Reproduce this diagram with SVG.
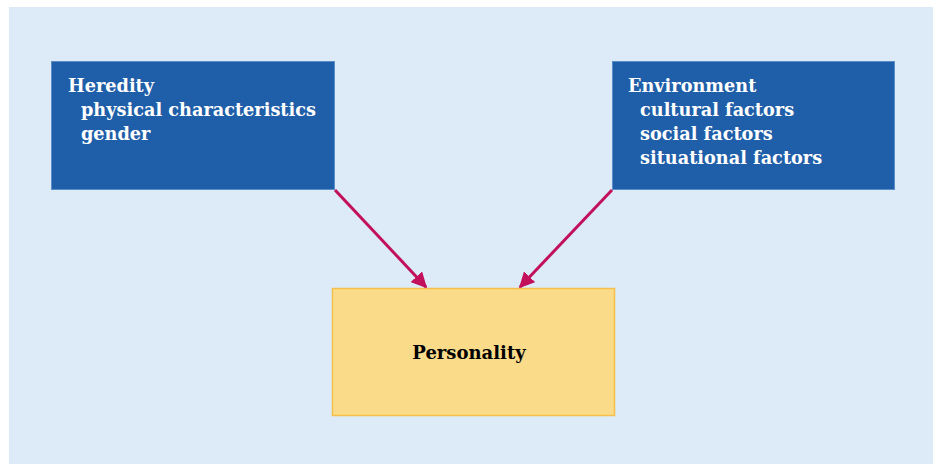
<svg xmlns="http://www.w3.org/2000/svg" width="933" height="464" viewBox="0 0 933 464">
<style>
.bg{fill:#DCEBF7}
.src{fill:#1F5EA8;stroke:#5B8DC8;stroke-width:1}
.tgt{fill:#FADB8A;stroke:#F5C04A;stroke-width:1.5}
.t{font-family:"DejaVu Serif",serif;font-weight:bold;font-size:17.7px;fill:#FFFFFF}
.p{font-family:"DejaVu Serif",serif;font-weight:bold;font-size:18px;fill:#000000}
.c{stroke:#C2105A;stroke-width:3;fill:none}
</style>
<defs>
<marker id="ah" viewBox="0 0 10 10" refX="9" refY="5" markerWidth="5.2" markerHeight="5.2" orient="auto" markerUnits="strokeWidth">
<path d="M0,0 L10,5 L0,10 z" fill="#C2105A"/>
</marker>
</defs>
<rect class="bg" x="9" y="7" width="924" height="457"/>
<g id="heredity">
<rect class="src" x="51.5" y="61.5" width="283" height="128"/>
<text class="t" x="68" y="92">Heredity</text>
<text class="t" x="81" y="116">physical characteristics</text>
<text class="t" x="81" y="140">gender</text>
</g>
<g id="environment">
<rect class="src" x="612.5" y="61.5" width="282" height="128"/>
<text class="t" x="628" y="92">Environment</text>
<text class="t" x="640" y="116">cultural factors</text>
<text class="t" x="640" y="140">social factors</text>
<text class="t" x="640" y="164">situational factors</text>
</g>
<g id="personality">
<rect class="tgt" x="332.5" y="288.5" width="282" height="127"/>
<text class="p" x="469" y="359" text-anchor="middle">Personality</text>
</g>
<g id="connectors">
<line class="c" x1="335" y1="190" x2="426" y2="287" marker-end="url(#ah)"/>
<line class="c" x1="612" y1="190" x2="520" y2="287" marker-end="url(#ah)"/>
</g>
</svg>
